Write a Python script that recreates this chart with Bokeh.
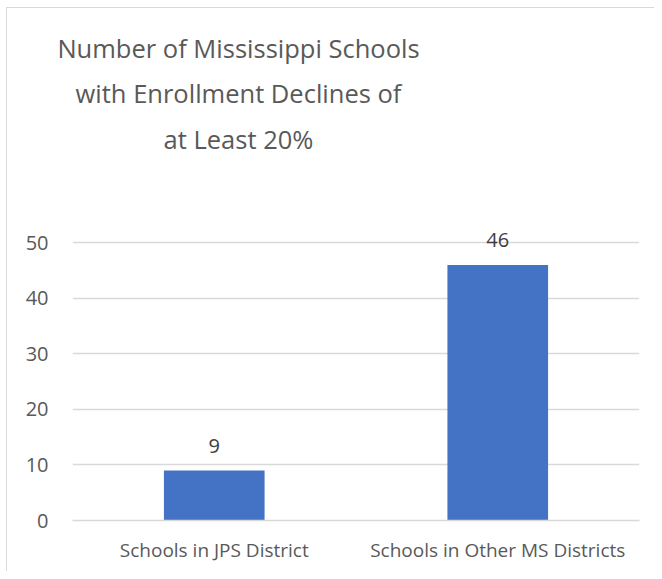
from bokeh.plotting import figure
from bokeh.models import ColumnDataSource, LabelSet, Label, FixedTicker, FactorRange, Range1d
from bokeh.core.properties import value
from bokeh.embed import file_html
from bokeh.resources import INLINE

categories = ["Schools in JPS District", "Schools in Other MS Districts"]
values = [9, 46]
y_ticks = [0, 10, 20, 30, 40, 50]
title_lines = ["Number of Mississippi Schools", "with Enrollment Declines of", "at Least 20%"]

FONT = "Open Sans"
TXT = "#595959"

# ---- title panel ----
t = figure(x_range=Range1d(0, 1), y_range=Range1d(0, 1), width=648, height=193,
           min_border_left=0, min_border_right=0, min_border_top=0, min_border_bottom=0,
           x_axis_location=None, y_axis_location=None,
           output_backend="svg", toolbar_location=None, tools="")
t.grid.visible = False
t.outline_line_color = None
t.background_fill_color = "white"
t.border_fill_color = "white"
t.styles = {"border-left": "1px solid #d9d9d9", "border-top": "1px solid #d9d9d9",
            "margin-left": "6px", "margin-top": "7px"}
for i, line in enumerate(title_lines):
    t.add_layout(Label(x=231, y=154 - 45.5 * i, x_units="screen", y_units="screen",
                       text=line, text_align="center", text_baseline="alphabetic",
                       text_font=FONT, text_font_size="25.5px", text_color=TXT))

# ---- chart ----
source = ColumnDataSource(dict(cat=categories, val=values, lbl=[str(v) for v in values]))

p = figure(x_range=FactorRange(*categories, range_padding=0), y_range=Range1d(0, 56.7),
           width=648, height=371, frame_width=567, frame_height=315,
           min_border_left=65, min_border_right=16, min_border_top=5, min_border_bottom=51,
           output_backend="svg", toolbar_location=None, tools="")
p.outline_line_color = None
p.background_fill_color = "white"
p.border_fill_color = "white"
p.styles = {"border-left": "1px solid #d9d9d9", "margin-left": "6px"}

p.vbar(x="cat", top="val", width=0.355, source=source, fill_color="#4472C4", line_color=None)

p.add_layout(LabelSet(x="cat", y="val", text="lbl", source=source, y_offset=18,
                      text_align="center", text_baseline="alphabetic",
                      text_font=value(FONT), text_font_size=value("20px"), text_color=value("#404040")))

p.yaxis.ticker = FixedTicker(ticks=y_ticks)
p.yaxis.axis_line_color = None
p.yaxis.major_tick_line_color = None
p.yaxis.minor_tick_line_color = None
p.yaxis.major_label_standoff = 18
p.yaxis.major_label_text_font = FONT
p.yaxis.major_label_text_font_size = "20px"
p.yaxis.major_label_text_color = TXT

p.xaxis.axis_line_color = "#d9d9d9"
p.xaxis.axis_line_width = 1.5
p.xaxis.major_tick_line_color = None
p.xaxis.minor_tick_line_color = None
p.xaxis.major_label_standoff = 10
p.xaxis.major_label_text_font = FONT
p.xaxis.major_label_text_font_size = "19px"
p.xaxis.major_label_text_color = TXT

p.xgrid.grid_line_color = None
p.ygrid.grid_line_color = "#d9d9d9"
p.ygrid.grid_line_width = 1.5

open("out.html", "w").write(file_html([t, p], INLINE))
